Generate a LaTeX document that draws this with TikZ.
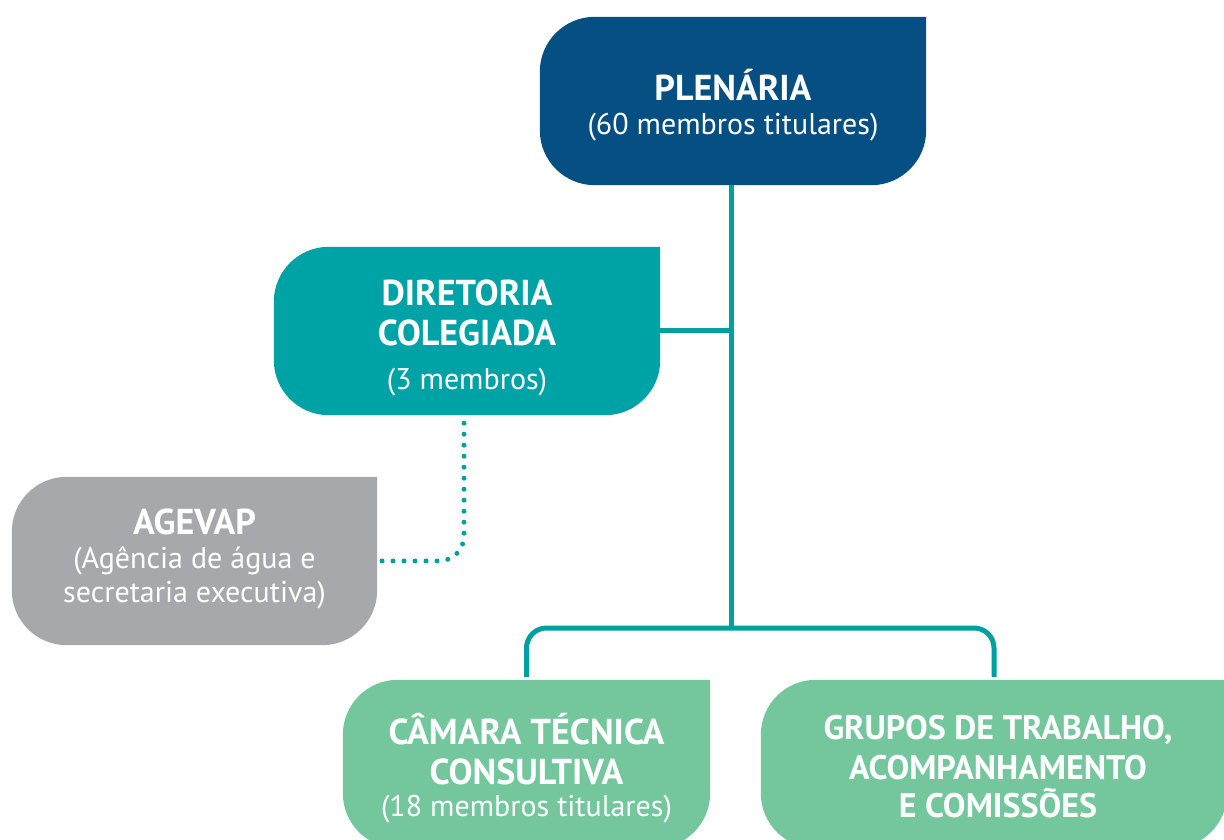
\documentclass[tikz,border=0pt]{standalone}
\usepackage{fontspec}
\setmainfont{PT Sans}
\usetikzlibrary{backgrounds,calc}
\definecolor{plenblue}{HTML}{054F82}
\definecolor{dirteal}{HTML}{00A3A5}
\definecolor{linteal}{HTML}{00A0A0}
\definecolor{agegray}{HTML}{A7A8AC}
\definecolor{leafgreen}{HTML}{74C69D}
\newcommand\leafshape[3]{%
  \fill[#2] (#1.north east) -- ([yshift=#3]#1.south east)
    arc[start angle=0,end angle=-90,radius=#3] -- ([xshift=#3]#1.south west)
    arc[start angle=270,end angle=180,radius=#3] -- ([yshift=-#3]#1.north west)
    arc[start angle=180,end angle=90,radius=#3] -- cycle;}
\newcommand\ttl{\bfseries\fontsize{36}{34}\selectfont}
\newcommand\ttlg{\bfseries\fontsize{34}{34}\selectfont}
\tikzset{
  box/.style={inner sep=0pt, minimum height=168pt},
  lbl/.style={inner sep=0pt, align=center, text=white, font=\fontsize{30}{34}\selectfont},
  conn/.style={draw=linteal, line width=5pt},
  dotconn/.style={draw=linteal, line width=5pt, line cap=round, dash pattern=on 0pt off 11pt}
}
\begin{document}
\begin{tikzpicture}[x=1pt,y=1pt]
\useasboundingbox (0,0) rectangle (1224,839);
\clip (0,0) rectangle (1224,839);
\node[box, minimum width=386pt] (plen) at (733,738) {};
\node[box, minimum width=386pt] (dir) at (467,508) {};
\node[box, minimum width=365pt] (age) at (194.5,278) {};
\node[box, minimum width=367pt] (cam) at (526.5,75) {};
\node[box, minimum width=466pt] (grp) at (994,75) {};
\leafshape{plen}{plenblue}{55pt}
\leafshape{dir}{dirteal}{55pt}
\leafshape{age}{agegray}{55pt}
\leafshape{cam}{leafgreen}{55pt}
\leafshape{grp}{leafgreen}{55pt}
\node[lbl] (plen-t) at ([yshift=-4pt]plen.center) {{\ttl PLENÁRIA}\\(60 membros titulares)};
\node[lbl] (dir-t) at ([yshift=-7pt]dir.center) {{\ttl DIRETORIA}\\[6pt]{\ttl COLEGIADA}\\[10pt](3 membros)};
\node[lbl] (age-t) at ([yshift=2pt]age.center) {{\ttl AGEVAP}\\(Agência de água e\\secretaria executiva)};
\node[lbl] (cam-t) at ([yshift=-4pt]cam.center) {{\ttl CÂMARA TÉCNICA}\\[6pt]{\ttl CONSULTIVA}\\[-2pt](18 membros titulares)};
\node[lbl] (grp-t) at ([xshift=4pt,yshift=-3pt]grp.center) {{\ttlg GRUPOS DE TRABALHO,}\\[6pt]{\ttlg ACOMPANHAMENTO}\\[4pt]{\ttlg E COMISSÕES}};
\coordinate (j) at (731,211);
\draw[conn] (plen.south -| j) -- (j);
\draw[conn] (dir.east) -- (dir.east -| j);
\draw[conn, rounded corners=20pt, shorten <=3pt, shorten >=3pt] (cam.north) -- (cam.north |- j) -- (grp.north |- j) -- (grp.north);
\draw[dotconn, rounded corners=25pt] ([xshift=-3pt,yshift=-8pt]dir.south) |- ([xshift=3pt]age.east);
\end{tikzpicture}
\end{document}
